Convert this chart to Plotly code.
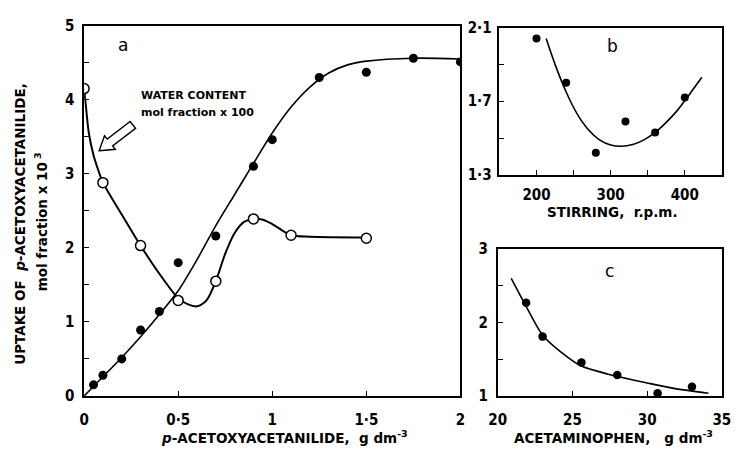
import plotly.graph_objects as go

# ---------------- data ----------------
# (a) uptake of p-acetoxyacetanilide vs its concentration
a_x = [0.05, 0.10, 0.20, 0.30, 0.40, 0.50, 0.70, 0.90, 1.00, 1.25, 1.50, 1.75, 2.00]
a_uptake = [0.15, 0.28, 0.50, 0.89, 1.14, 1.80, 2.16, 3.10, 3.46, 4.30, 4.37, 4.56, 4.51]
a_fit_x = [0.0, 0.1, 0.2, 0.3, 0.4, 0.5, 0.6, 0.7, 0.8, 0.9, 1.0, 1.1, 1.2, 1.3, 1.4, 1.5, 1.75, 2.0]
a_fit_y = [0.0, 0.26, 0.52, 0.80, 1.10, 1.42, 1.84, 2.30, 2.72, 3.14, 3.55, 3.90, 4.17, 4.36, 4.47, 4.52, 4.56, 4.55]

# (a) water content, mol fraction x 100
w_x = [0.0, 0.1, 0.3, 0.5, 0.7, 0.9, 1.1, 1.5]
w_y = [4.15, 2.88, 2.03, 1.29, 1.55, 2.39, 2.17, 2.13]
w_fit_x = [0.0, 0.01, 0.025, 0.05, 0.075, 0.1, 0.2, 0.3, 0.4, 0.5, 0.55, 0.6, 0.65, 0.7,
           0.75, 0.8, 0.85, 0.9, 0.95, 1.0, 1.05, 1.1, 1.2, 1.5]
w_fit_y = [4.15, 3.90, 3.55, 3.25, 3.05, 2.88, 2.45, 2.03, 1.65, 1.32, 1.24, 1.21, 1.29, 1.55,
           1.92, 2.20, 2.35, 2.39, 2.38, 2.32, 2.24, 2.17, 2.15, 2.14]

# (b) stirring rate
b_x = [200, 240, 280, 320, 360, 400]
b_y = [2.04, 1.80, 1.42, 1.59, 1.53, 1.72]
b_fit_x = [213, 225, 240, 255, 270, 285, 300, 315, 330, 345, 360, 375, 390, 405, 423]
b_fit_y = [2.04, 1.90, 1.75, 1.63, 1.545, 1.49, 1.462, 1.455, 1.465, 1.49, 1.53, 1.585, 1.65, 1.73, 1.83]

# (c) acetaminophen concentration
c_x = [21.9, 23.0, 25.6, 28.0, 30.7, 33.0]
c_y = [2.27, 1.81, 1.46, 1.29, 1.04, 1.13]
c_fit_x = [20.9, 21.9, 23.0, 24.3, 25.6, 27.4, 28.0, 30.0, 31.7, 34.1]
c_fit_y = [2.60, 2.22, 1.83, 1.59, 1.41, 1.30, 1.27, 1.18, 1.11, 1.04]

# tick labels (decimal point written as a raised dot)
a_xticks = [0, 0.5, 1, 1.5, 2]
a_xtext = ["0", "0·5", "1", "1·5", "2"]
a_yticks = [0, 1, 2, 3, 4, 5]
b_xticks = [200, 250, 300, 350, 400]
b_xtext = ["200", "", "300", "", "400"]
b_yticks = [1.3, 1.5, 1.7, 1.9, 2.1]
b_ytext = ["1·3", "", "1·7", "", "2·1"]
c_xticks = [20, 25, 30, 35]
c_yticks = [1, 1.5, 2, 2.5, 3]
c_ytext = ["1", "", "2", "", "3"]

# ---------------- figure ----------------
W, H = 737, 452
FONT = "DejaVu Sans Condensed, DejaVu Sans, Liberation Sans"
TFONT = "DejaVu Sans, Liberation Sans"
BLACK = "black"

fig = go.Figure()

dot = dict(color=BLACK, size=9)
ring = dict(color="white", size=10, line=dict(color=BLACK, width=1.5))
curve = dict(color=BLACK, width=1.6, shape="spline", smoothing=0.8)

fig.add_trace(go.Scatter(x=a_fit_x, y=a_fit_y, mode="lines", line=curve, xaxis="x", yaxis="y"))
fig.add_trace(go.Scatter(x=w_fit_x, y=w_fit_y, mode="lines", line=dict(curve, width=2), xaxis="x", yaxis="y"))
fig.add_trace(go.Scatter(x=a_x, y=a_uptake, mode="markers", marker=dot, xaxis="x", yaxis="y"))
fig.add_trace(go.Scatter(x=w_x, y=w_y, mode="markers", marker=ring, xaxis="x", yaxis="y"))

fig.add_trace(go.Scatter(x=b_fit_x, y=b_fit_y, mode="lines", line=curve, xaxis="x2", yaxis="y2"))
fig.add_trace(go.Scatter(x=b_x, y=b_y, mode="markers", marker=dict(color=BLACK, size=8), xaxis="x2", yaxis="y2"))

fig.add_trace(go.Scatter(x=c_fit_x, y=c_fit_y, mode="lines", line=curve, xaxis="x3", yaxis="y3"))
fig.add_trace(go.Scatter(x=c_x, y=c_y, mode="markers", marker=dict(color=BLACK, size=8.5), xaxis="x3", yaxis="y3"))


def axis(domain, rng, tickvals, ticktext=None, anchor=None, minor=None, standoff=2):
    d = dict(domain=domain, range=rng, tickvals=tickvals, showline=True, mirror=True,
             linecolor=BLACK, linewidth=1.6, ticks="inside", ticklen=5, tickwidth=1.4,
             tickcolor=BLACK, showgrid=False, zeroline=False, anchor=anchor,
             ticklabelstandoff=standoff,
             tickfont=dict(family=FONT, size=15, color=BLACK, weight="bold"))
    if ticktext is not None:
        d["ticktext"] = ticktext
    if minor is not None:
        d["minor"] = dict(ticks="inside", dtick=minor, ticklen=5, tickwidth=1.4, tickcolor=BLACK,
                          showgrid=False)
    return d


# panel domains in paper fractions
a_dx = [77 / W, 462.7 / W]
a_dy = [49 / H, 434.7 / H]
b_dx = [502.7 / W, 730.7 / W]
b_dy = [279.3 / H, 432.7 / H]
c_dx = [501 / W, 730.7 / W]
c_dy = [48.7 / H, 202 / H]

fig.update_layout(
    width=W, height=H,
    margin=dict(l=0, r=0, t=0, b=0),
    paper_bgcolor="white", plot_bgcolor="white",
    showlegend=False,
    font=dict(family=FONT, color=BLACK),
    xaxis=axis(a_dx, [0, 2], a_xticks, a_xtext, anchor="y", standoff=9),
    yaxis=axis(a_dy, [0, 5], a_yticks, anchor="x", minor=0.5, standoff=5),
    xaxis2=axis(b_dx, [150, 450], b_xticks, b_xtext, anchor="y2", standoff=5),
    yaxis2=axis(b_dy, [1.3, 2.1], b_yticks, b_ytext, anchor="x2", standoff=3),
    xaxis3=axis(c_dx, [20, 35], c_xticks, anchor="y3", standoff=9),
    yaxis3=axis(c_dy, [1, 3], c_yticks, c_ytext, anchor="x3", standoff=5),
)

tfont = dict(family=TFONT, size=13.5, color=BLACK, weight="bold")


def paper_text(text, px, py, angle=0):
    return dict(text=text, x=px / W, y=1 - py / H, xref="paper", yref="paper",
                xanchor="center", yanchor="middle", showarrow=False, textangle=angle, font=tfont)


lfont = dict(family=TFONT, size=11, color=BLACK, weight="bold")
ann = [
    # axis titles
    paper_text("<i>p</i>-ACETOXYACETANILIDE,  g dm<sup>-3</sup>", 282, 446),
    paper_text("UPTAKE OF  <i>p</i>-ACETOXYACETANILIDE,", 11, 224, -90),
    paper_text("mol fraction x 10<sup> 3</sup>", 33, 222, -90),
    paper_text("STIRRING,  r.p.m.", 619, 211),
    paper_text("ACETAMINOPHEN,   g dm<sup>-3</sup>", 620, 446),
    # panel letters
    dict(text="a", x=0.207, y=4.74, xref="x", yref="y", showarrow=False,
         font=dict(family=TFONT, size=17, color=BLACK)),
    dict(text="b", x=303, y=2.0, xref="x2", yref="y2", showarrow=False,
         font=dict(family=TFONT, size=17, color=BLACK)),
    dict(text="c", x=27.5, y=2.7, xref="x3", yref="y3", showarrow=False,
         font=dict(family=TFONT, size=17, color=BLACK)),
    # label for the open-circle curve
    dict(text="WATER CONTENT", x=0.29, y=4.05, xref="x", yref="y", xanchor="left",
         yanchor="middle", showarrow=False, font=lfont),
    dict(text="mol fraction x 100", x=0.29, y=3.83, xref="x", yref="y", xanchor="left",
         yanchor="middle", showarrow=False, font=lfont),
]
fig.update_layout(annotations=ann)

# hollow block arrow pointing at the water-content curve (panel a data units)
sx = (462.7 - 77) / 2.0   # px per x unit
sy = (434.7 - 49) / 5.0   # px per y unit
tip = (0.080, 3.31)
tail = (0.259, 3.66)
dxp, dyp = (tip[0] - tail[0]) * sx, (tip[1] - tail[1]) * sy
L = (dxp ** 2 + dyp ** 2) ** 0.5
ux, uy = dxp / L, dyp / L
nx, ny = -uy, ux
head_len, head_w, shaft_w = 14, 9, 4.5


def pt(px, py):
    return f"{tip[0] + px / sx:.5f},{tip[1] + py / sy:.5f}"


bx, by = -head_len * ux, -head_len * uy
tx, ty = -L * ux, -L * uy
path = ("M " + pt(0, 0)
        + " L " + pt(bx + head_w * nx, by + head_w * ny)
        + " L " + pt(bx + shaft_w * nx, by + shaft_w * ny)
        + " L " + pt(tx + shaft_w * nx, ty + shaft_w * ny)
        + " L " + pt(tx - shaft_w * nx, ty - shaft_w * ny)
        + " L " + pt(bx - shaft_w * nx, by - shaft_w * ny)
        + " L " + pt(bx - head_w * nx, by - head_w * ny)
        + " Z")
fig.add_shape(type="path", path=path, xref="x", yref="y",
              fillcolor="white", line=dict(color=BLACK, width=1.4))

fig.write_html("out.html")
